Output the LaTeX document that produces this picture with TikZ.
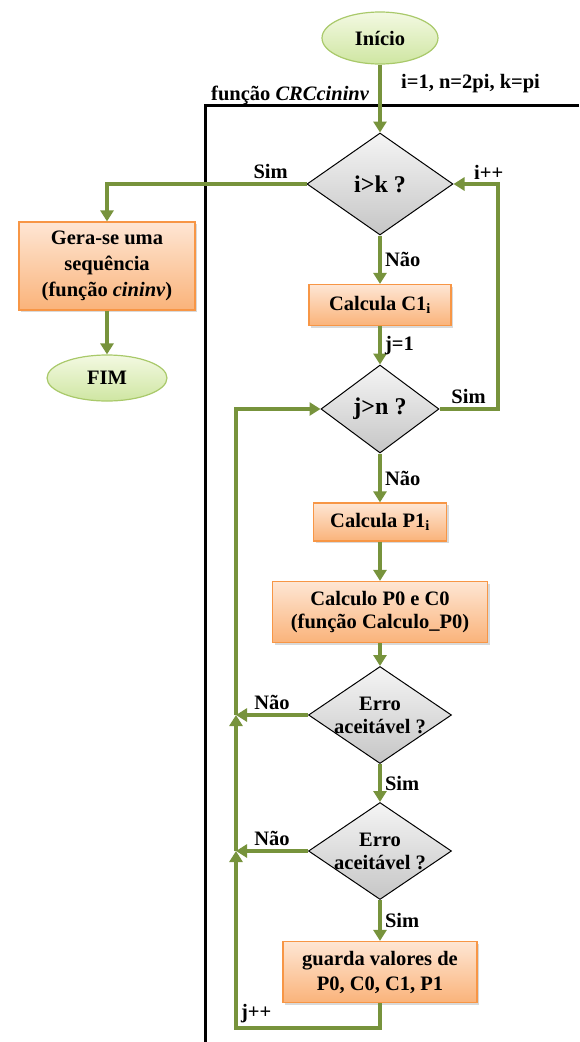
\documentclass[tikz,border=0pt]{standalone}
\usepackage{fontspec}
\setmainfont{Liberation Serif}
\usetikzlibrary{shapes,arrows.meta,positioning,calc,shadows}
\definecolor{flowgreen}{HTML}{77933C}
\definecolor{boxline}{HTML}{F79646}
\definecolor{boxtop}{HTML}{FEE6D4}
\definecolor{boxbot}{HTML}{FAB37A}
\definecolor{termline}{HTML}{A9C96A}
\definecolor{termtop}{HTML}{F3F9E2}
\definecolor{termbot}{HTML}{CFE6A2}
\newcommand{\flowfont}{\bfseries\fontsize{20.5}{23}\selectfont}
\newcommand{\bigflowfont}{\bfseries\fontsize{24}{27}\selectfont}
\tikzstyle{block} = [rectangle, draw=boxline, line width=1.2pt, top color=boxtop, bottom color=boxbot, text centered, align=center, font=\flowfont, drop shadow={opacity=0.3, shadow xshift=2pt, shadow yshift=-2pt}]
\tikzstyle{decision} = [diamond, draw=black, line width=1pt, top color=gray!8, bottom color=gray!45, inner sep=0pt, align=center, font=\flowfont]
\tikzstyle{check} = [decision, aspect=1.47, inner sep=-8pt, minimum width=143pt, minimum height=97pt]
\tikzstyle{terminal} = [ellipse, draw=termline, line width=1.2pt, top color=termtop, bottom color=termbot, font=\flowfont]
\tikzstyle{flow} = [->, draw=flowgreen, line width=4pt]
\tikzstyle{tag} = [font=\flowfont, inner sep=3pt]

\begin{document}
\begin{tikzpicture}[>={Triangle[length=11pt,width=13pt]}, node distance=100pt]
    \useasboundingbox (0,0) rectangle (579pt,-1042pt);

    % main column
    \node[terminal, minimum width=116pt, minimum height=52pt] (start) at (380pt,-38pt) {Início};
    \node[decision, node distance=146pt, below of=start, minimum width=146pt, minimum height=102pt, font=\bigflowfont] (ik) {i>k ?};
    \node[block, node distance=121pt, below of=ik, minimum width=142pt, minimum height=41pt] (c1) {Calcula C1\textsubscript{i}};
    \node[decision, node distance=104pt, below of=c1, minimum width=118pt, minimum height=88pt, font=\bigflowfont] (jn) {j>n ?};
    \node[block, node distance=113pt, below of=jn, minimum width=133pt, minimum height=38pt] (p1) {Calcula P1\textsubscript{i}};
    \node[block, node distance=90pt, below of=p1, minimum width=215pt, minimum height=61pt] (calc) {Calculo P0 e C0\\(função Calculo\_P0)};
    \node[check, node distance=103pt, below of=calc] (erro1) {Erro\\aceitável ?};
    \node[check, node distance=136pt, below of=erro1] (erro2) {Erro\\aceitável ?};
    \node[block, node distance=121pt, below of=erro2, minimum width=194pt, minimum height=61pt] (guarda) {guarda valores de\\[2pt]P0, C0, C1, P1};

    % left branch
    \node[block, node distance=82pt, below of=ik, xshift=-273pt, minimum width=176pt, minimum height=88pt] (gera) {Gera-se uma\\[3pt]sequência\\[3pt](função \textit{cininv})};
    \node[terminal, node distance=112pt, below of=gera, minimum width=120pt, minimum height=46pt] (fim) {FIM};

    % function frame
    \coordinate (frameR) at (579pt,-105pt);
    \coordinate (frameB) at (205pt,-1042pt);
    \draw[line width=3pt] (frameR) -| (frameB);
    \node[tag, anchor=base west] (fname) at (208pt,-100pt) {função \textit{CRCcininv}};
    \node[tag, anchor=base west] (init) at (398pt,-88pt) {i=1, n=2pi, k=pi};

    % return points of the j loop
    \coordinate (lx) at (236pt,0);
    \coordinate (m1) at (erro1.west -| lx);
    \coordinate (m2) at (erro2.west -| lx);

    \draw[flow] (start) -- (ik);
    \draw[flow] (ik.west) -| node[tag, pos=0.09, above] {Sim} (gera.north);
    \draw[flow] (gera) -- (fim);
    \draw[flow] (ik) -- node[tag, right] {Não} (c1);
    \draw[flow] (c1) -- node[tag, right] {j=1} (jn);
    \draw[flow] (jn.east) -- node[tag, above] {Sim} ++(58pt,0) |- node[tag, pos=0.6, above] {i++} (ik.east);
    \draw[flow] (jn) -- node[tag, right] {Não} (p1);
    \draw[flow] (p1) -- (calc);
    \draw[flow] (calc) -- (erro1);
    \draw[flow] (erro1) -- node[tag, right] {Sim} (erro2);
    \draw[flow] (erro2) -- node[tag, right] {Sim} (guarda);
    \draw[flow] (erro1.west) -- node[tag, above] {Não} (m1);
    \draw[flow] (erro2.west) -- node[tag, above] {Não} (m2);
    \draw[flow] (m1) |- (jn.west);
    \draw[flow] (m2) -- (m1);
    \draw[flow] (guarda.south) -- ++(0,-25pt) -| node[tag, pos=0.5, above right] {j++} (m2);
\end{tikzpicture}
\end{document}
